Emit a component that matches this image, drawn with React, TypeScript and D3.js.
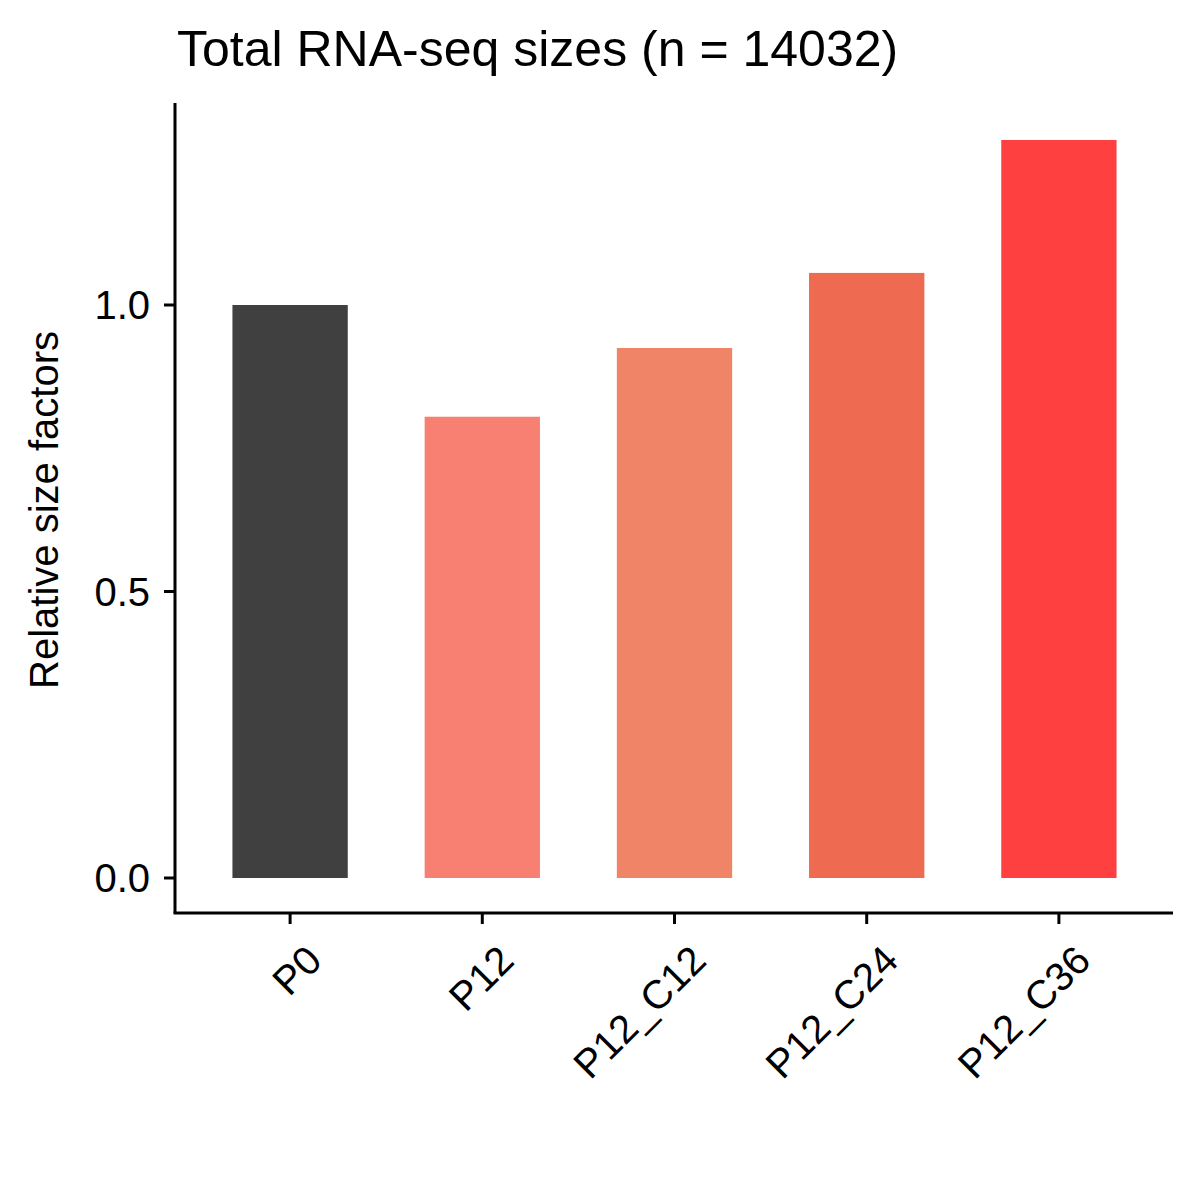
import React from 'react';
import * as d3 from 'd3';

const categories = ['P0', 'P12', 'P12_C12', 'P12_C24', 'P12_C36'];
const sizeFactors = [1.0, 0.805, 0.925, 1.056, 1.288];
const barColors = ['#404040', '#F88072', '#EF8467', '#EE6B51', '#FF4040'];
const yTicks = [0, 0.5, 1.0];

export default function App() {
  const width = 1200;
  const height = 1200;
  const left = 175, right = 1173, top = 103, bottom = 913;

  const x = d3.scaleBand<string>()
    .domain(categories)
    .range([194, 1155])
    .paddingInner(0.4)
    .paddingOuter(0.2);

  const y = d3.scaleLinear().domain([0, 1]).range([878, 305]);

  const font = 'Liberation Sans, Arial, sans-serif';

  return (
    <svg width={width} height={height} style={{ position: 'absolute', left: 0, top: 0 }} fontFamily={font}>
      <rect width={width} height={height} fill="#fff" />
      <text x={177} y={66} fontSize={50}>Total RNA-seq sizes (n = 14032)</text>

      {categories.map((c, i) => (
        <rect key={c} x={x(c)} y={y(sizeFactors[i])} width={x.bandwidth()}
          height={y(0) - y(sizeFactors[i])} fill={barColors[i]} />
      ))}

      <line x1={left} x2={left} y1={top} y2={bottom} stroke="#000" strokeWidth={3} />
      <line x1={left - 1.5} x2={right} y1={bottom} y2={bottom} stroke="#000" strokeWidth={3} />

      {yTicks.map(t => (
        <g key={t}>
          <line x1={left - 11} x2={left} y1={y(t)} y2={y(t)} stroke="#000" strokeWidth={3} />
          <text x={150} y={y(t)} dy="0.35em" textAnchor="end" fontSize={40}>{t.toFixed(1)}</text>
        </g>
      ))}

      {categories.map(c => {
        const cx = (x(c) ?? 0) + x.bandwidth() / 2;
        return (
          <g key={c}>
            <line x1={cx} x2={cx} y1={bottom} y2={bottom + 11} stroke="#000" strokeWidth={3} />
            <text transform={`translate(${cx + 14},${bottom + 30}) rotate(-45)`} textAnchor="end"
              dy="0.7em" fontSize={40}>{c}</text>
          </g>
        );
      })}

      <text transform={`translate(58,510) rotate(-90)`} textAnchor="middle" fontSize={40}>
        Relative size factors
      </text>
    </svg>
  );
}
